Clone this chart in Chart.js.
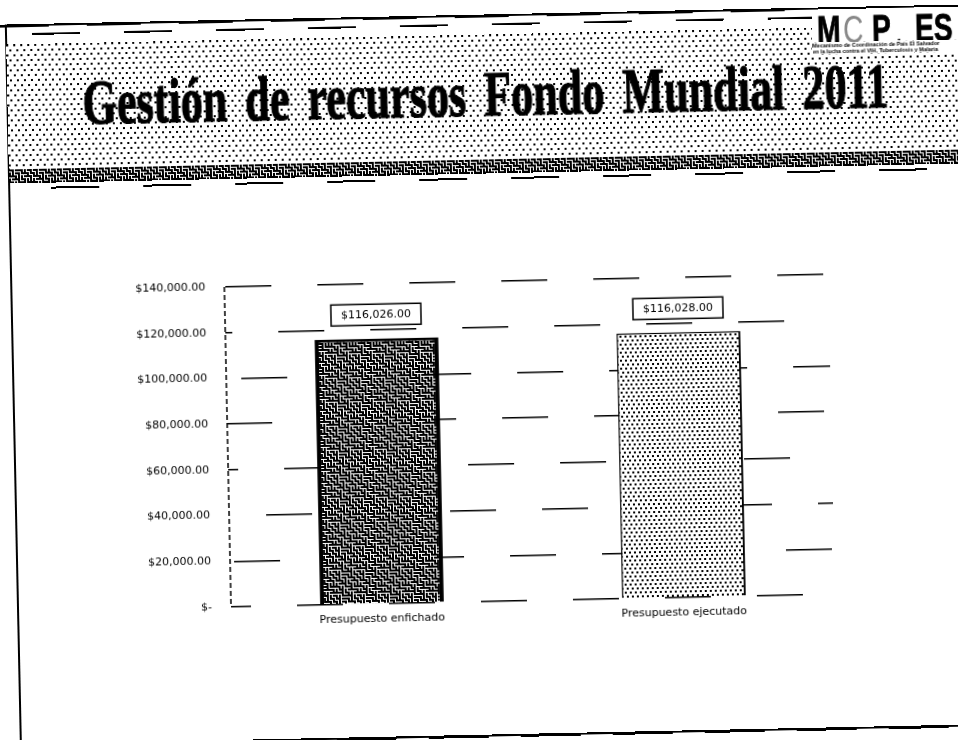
<!DOCTYPE html>
<html><head><meta charset="utf-8">
<script src="https://cdn.jsdelivr.net/npm/chart.js@4"></script>
<style>
html,body{margin:0;padding:0;background:#fff;width:958px;height:740px;overflow:hidden}
#stage{position:absolute;left:0;top:0;width:1010px;height:760px;transform-origin:228px 605px;transform:rotate(-1.2deg);background:#fff}
#stage canvas{position:absolute;left:0;top:0}
.abs{position:absolute}
#hdr{left:18px;top:40px;width:1000px;height:124px}
#strip{left:18px;top:165px;width:1000px;height:14px}
#title{left:93px;top:60px;margin:0;font:bold 64px/80px "Liberation Serif",serif;word-spacing:10px;color:#000;white-space:nowrap;transform-origin:0 0;-webkit-text-stroke:1.2px #000}
#logo{left:824px;top:22px;width:190px;height:33px;background:#fff}
.lg{position:absolute;top:2px;font:bold 38px/38px "Liberation Sans",sans-serif;color:#000;transform-origin:0 0;transform:scaleX(.74);-webkit-text-stroke:.8px #000}
.sm{left:824px;font:bold 5.5px/6px "Liberation Sans",sans-serif;color:#000;white-space:nowrap;background:#fff;width:190px}
</style></head><body>
<div id="stage">
<canvas id="c" width="1010" height="760" style="width:1010px;height:760px"></canvas>
<div id="frame"></div>
<div id="hdr" class="abs"></div>
<div id="strip" class="abs"></div>
<h1 id="title" class="abs">Gestión de recursos Fondo Mundial 2011</h1>
<div id="logo" class="abs">
<span class="lg" style="left:5px">M</span>
<span class="lg" style="left:31px;color:#888;font-weight:normal;-webkit-text-stroke:0">C</span>
<span class="lg" style="left:60px">P</span>
<span class="lg" style="left:85px;font-size:14px;top:12px;font-weight:normal;-webkit-text-stroke:0">-</span>
<span class="lg" style="left:103px">ES</span>
</div>
<div class="abs sm" style="top:55px">Mecanismo de Coordinación de País El Salvador</div>
<div class="abs sm" style="top:61px">en la lucha contra el VIH, Tuberculosis y Malaria</div>
</div>
<script>
const categories = ["Presupuesto enfichado", "Presupuesto ejecutado"];
const budgetValues = [116026, 116028];
const budgetLabels = ["$116,026.00", "$116,028.00"];
const yTickValues = [0, 20000, 40000, 60000, 80000, 100000, 120000, 140000];
const yTickLabels = ["$-", "$20,000.00", "$40,000.00", "$60,000.00", "$80,000.00", "$100,000.00", "$120,000.00", "$140,000.00"];

function tile(w, h, draw){const t=document.createElement('canvas');t.width=w;t.height=h;const x=t.getContext('2d');x.fillStyle='#fff';x.fillRect(0,0,w,h);x.fillStyle='#000';draw(x);return t;}
const mazeCells=["HVHHVVHV","VVHVHHVH","HHVVVHHV","VHHVHVVV","HVVHHVHH","VHVVHHHV","HHVHVVHH","VVHHHVVH"];
const wormTile=tile(24,24,x=>{mazeCells.forEach((r,j)=>[...r].forEach((k,i)=>{
  if(k==='H') x.fillRect(i*3,j*3,3,2); else x.fillRect(i*3,j*3,2,3);
}));});
const dotTile=tile(10,8,x=>{x.fillRect(0,0,2,2);x.fillRect(5,0,2,2);x.fillRect(2,4,2,2);x.fillRect(7,4,2,2);});
const hdrTile=tile(14,10,x=>{x.fillRect(0,0,2,2);x.fillRect(7,0,2,2);x.fillRect(3,5,2,2);x.fillRect(10,5,2,2);});
const cx0=document.getElementById('c').getContext('2d');
document.getElementById('hdr').style.background='url('+hdrTile.toDataURL()+')';
document.getElementById('strip').style.background='url('+wormTile.toDataURL()+')';

const t=document.getElementById('title');
t.style.transform='scaleX('+(807/t.getBoundingClientRect().width)+')';

// fragmented horizontal rules of the scanned frame
const frame=document.getElementById('frame');
[[20,7,92,54,3],[29,44,92,48,1.5],[183,60,92,48,1.5],[740,150,92,60,2.5]].forEach(([y,x0,p,d,h])=>{
 const e=document.createElement('div');e.className='abs';
 e.style.cssText='left:'+x0+'px;top:'+y+'px;width:1000px;height:'+h+'px;background:repeating-linear-gradient(90deg,#000 0 '+d+'px,transparent '+d+'px '+p+'px)';
 frame.appendChild(e);
});
[['left:7px;top:20px;width:1000px;height:2px'],['left:150px;top:740px;width:860px;height:2px'],['left:17px;top:20px;width:2px;height:730px']].forEach(([css])=>{
 const e=document.createElement('div');e.className='abs';e.style.cssText=css+';background:#000';frame.appendChild(e);
});

const gridStarts=[66,4,37,56,-1,15,53,1];
const wormPat=cx0.createPattern(wormTile,'repeat');
const dotPat=cx0.createPattern(dotTile,'repeat');

const extras={id:'extras',
 beforeDatasetsDraw(ch){const s=ch.scales.y,c=ch.ctx;c.save();c.strokeStyle='#000';c.lineWidth=1.5;c.setLineDash([5,3]);c.beginPath();c.moveTo(s.right,s.top);c.lineTo(s.right,s.bottom);c.stroke();c.restore();},
 afterDatasetsDraw(ch){const c=ch.ctx,m=ch.getDatasetMeta(0);c.save();c.font='11px "DejaVu Sans"';c.textAlign='center';c.textBaseline='middle';
  m.data.forEach((b,i)=>{const y=b.y-24,w=90,h=21;c.fillStyle='#fff';c.fillRect(b.x-w/2,y-h/2,w,h);c.strokeStyle='#000';c.lineWidth=1.5;c.strokeRect(b.x-w/2,y-h/2,w,h);c.fillStyle='#000';c.fillText(budgetLabels[i],b.x,y);});
  c.restore();}
};
new Chart(document.getElementById('c'),{
 type:'bar',
 data:{labels:categories,datasets:[{data:budgetValues,backgroundColor:[wormPat,dotPat],borderColor:'#000',borderWidth:[{left:4,right:4,top:3,bottom:0},{left:1.5,right:2,top:1.5,bottom:0}],barPercentage:.41,categoryPercentage:1}]},
 plugins:[extras],
 options:{responsive:false,animation:false,
  layout:{padding:{top:287,left:0,right:175,bottom:123}},
  plugins:{legend:{display:false},title:{display:false},tooltip:{enabled:false}},
  scales:{
   x:{afterFit(s){s.height=30;},grid:{display:false,drawTicks:false},border:{display:false},
      ticks:{color:'#000',font:{family:'DejaVu Sans',size:11},padding:9,maxRotation:0}},
   y:{min:0,max:140000,afterFit(s){s.width=231;},
      afterBuildTicks(s){s.ticks=yTickValues.map(v=>({value:v}));},
      border:{display:false,dash:[46,46],dashOffset:c=>92-gridStarts[c.index]},
      grid:{color:'#000',lineWidth:1.5,drawTicks:false},
      ticks:{color:'#000',font:{family:'DejaVu Sans',size:11},padding:19,callback:(v,i)=>yTickLabels[i]}}
  }}
});
</script>
</body></html>
